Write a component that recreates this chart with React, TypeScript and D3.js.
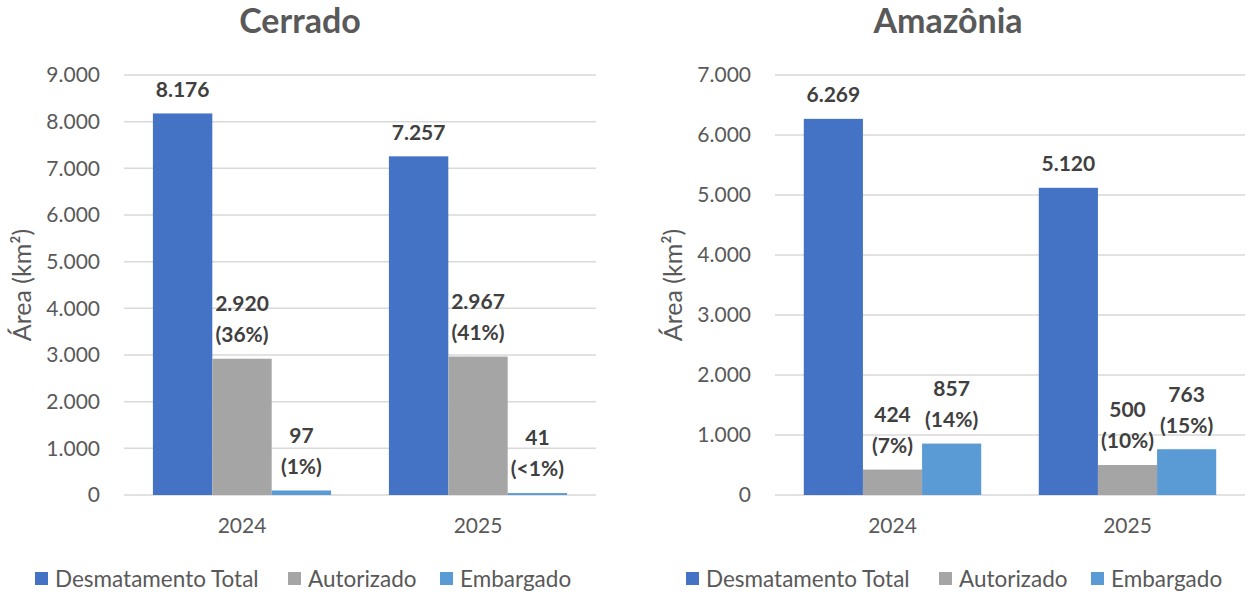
import React from "react";
import * as d3 from "d3";

const years = ["2024", "2025"];
const seriesNames = ["Desmatamento Total", "Autorizado", "Embargado"];
const seriesColors = ["#4472C4", "#A5A5A5", "#5B9BD5"];

const cerradoTotal = [8176, 7257];
const cerradoAutorizado = [2920, 2967];
const cerradoEmbargado = [97, 41];
const cerradoAutorizadoPct = ["(36%)", "(41%)"];
const cerradoEmbargadoPct = ["(1%)", "(<1%)"];
const cerradoTicks = [0, 1000, 2000, 3000, 4000, 5000, 6000, 7000, 8000, 9000];

const amazoniaTotal = [6269, 5120];
const amazoniaAutorizado = [424, 500];
const amazoniaEmbargado = [857, 763];
const amazoniaAutorizadoPct = ["(7%)", "(10%)"];
const amazoniaEmbargadoPct = ["(14%)", "(15%)"];
const amazoniaTicks = [0, 1000, 2000, 3000, 4000, 5000, 6000, 7000];

const FONT = "Lato, 'Open Sans', sans-serif";
const fmt = (v: number) => d3.format(",")(v).replace(/,/g, ".");

type PanelProps = {
  title: string;
  titleX: number;
  plotLeft: number;
  plotRight: number;
  axisTitleX: number;
  legendX: number;
  values: number[][];
  pcts: (string[] | null)[];
  ticks: number[];
};

function Panel(p: PanelProps) {
  const top = 75;
  const bottom = 495;
  const maxV = p.ticks[p.ticks.length - 1];
  const y = d3.scaleLinear().domain([0, maxV]).range([bottom, top]);
  const x0 = d3.scaleBand().domain(years).range([p.plotLeft, p.plotRight]).paddingInner(0.245).paddingOuter(0.1225);
  const x1 = d3.scaleBand().domain(seriesNames).range([0, x0.bandwidth()]);
  const legendOffsets = [0, 253, 405];
  return (
    <g>
      <text x={p.titleX} y={33} textAnchor="middle" fontFamily={FONT} fontWeight={700} fontSize={34} fill="#595959">
        {p.title}
      </text>
      {p.ticks.map((t) => (
        <g key={t}>
          <line x1={p.plotLeft} x2={p.plotRight} y1={y(t)} y2={y(t)} stroke="#D9D9D9" strokeWidth={1.5} />
          <text x={p.plotLeft - 24} y={y(t)} dy="0.35em" textAnchor="end" fontFamily={FONT} fontSize={21} fill="#595959">
            {fmt(t)}
          </text>
        </g>
      ))}
      <text
        transform={`translate(${p.axisTitleX},${(top + bottom) / 2}) rotate(-90)`}
        textAnchor="middle"
        dy="0.35em"
        fontFamily={FONT}
        fontSize={25}
        fill="#595959"
      >
        Área (km²)
      </text>
      {years.map((yr, i) => (
        <g key={yr}>
          {seriesNames.map((s, j) => {
            const v = p.values[j][i];
            const bx = (x0(yr) as number) + (x1(s) as number);
            const bw = x1.bandwidth();
            const by = y(v);
            const cx = bx + bw / 2;
            const pct = p.pcts[j];
            const lines = pct ? [fmt(v), pct[i]] : [fmt(v)];
            return (
              <g key={s}>
                <rect x={bx} y={by} width={bw} height={bottom - by} fill={seriesColors[j]} />
                {lines.map((l, k) => (
                  <text
                    key={k}
                    x={cx}
                    y={by - 24 - (lines.length - 1 - k) * 31}
                    dy="0.35em"
                    textAnchor="middle"
                    fontFamily={FONT}
                    fontWeight={700}
                    fontSize={21}
                    fill="#404040"
                  >
                    {l}
                  </text>
                ))}
              </g>
            );
          })}
          <text
            x={(x0(yr) as number) + x0.bandwidth() / 2}
            y={526}
            dy="0.35em"
            textAnchor="middle"
            fontFamily={FONT}
            fontSize={21}
            fill="#595959"
          >
            {yr}
          </text>
        </g>
      ))}
      {seriesNames.map((s, j) => (
        <g key={s} transform={`translate(${p.legendX + legendOffsets[j]},579)`}>
          <rect x={0} y={-7} width={13} height={13} fill={seriesColors[j]} />
          <text x={20} y={0} dy="0.35em" fontFamily={FONT} fontSize={22.5} fill="#595959">
            {s}
          </text>
        </g>
      ))}
    </g>
  );
}

export default function App() {
  return (
    <svg width={1248} height={598} style={{ position: "absolute", left: 0, top: 0, background: "#fff" }}>
      <rect width={1248} height={598} fill="#fff" />
      <Panel
        title="Cerrado"
        titleX={300}
        plotLeft={124}
        plotRight={596}
        axisTitleX={22}
        legendX={35}
        values={[cerradoTotal, cerradoAutorizado, cerradoEmbargado]}
        pcts={[null, cerradoAutorizadoPct, cerradoEmbargadoPct]}
        ticks={cerradoTicks}
      />
      <Panel
        title="Amazônia"
        titleX={948}
        plotLeft={775}
        plotRight={1245}
        axisTitleX={673}
        legendX={686}
        values={[amazoniaTotal, amazoniaAutorizado, amazoniaEmbargado]}
        pcts={[null, amazoniaAutorizadoPct, amazoniaEmbargadoPct]}
        ticks={amazoniaTicks}
      />
    </svg>
  );
}
